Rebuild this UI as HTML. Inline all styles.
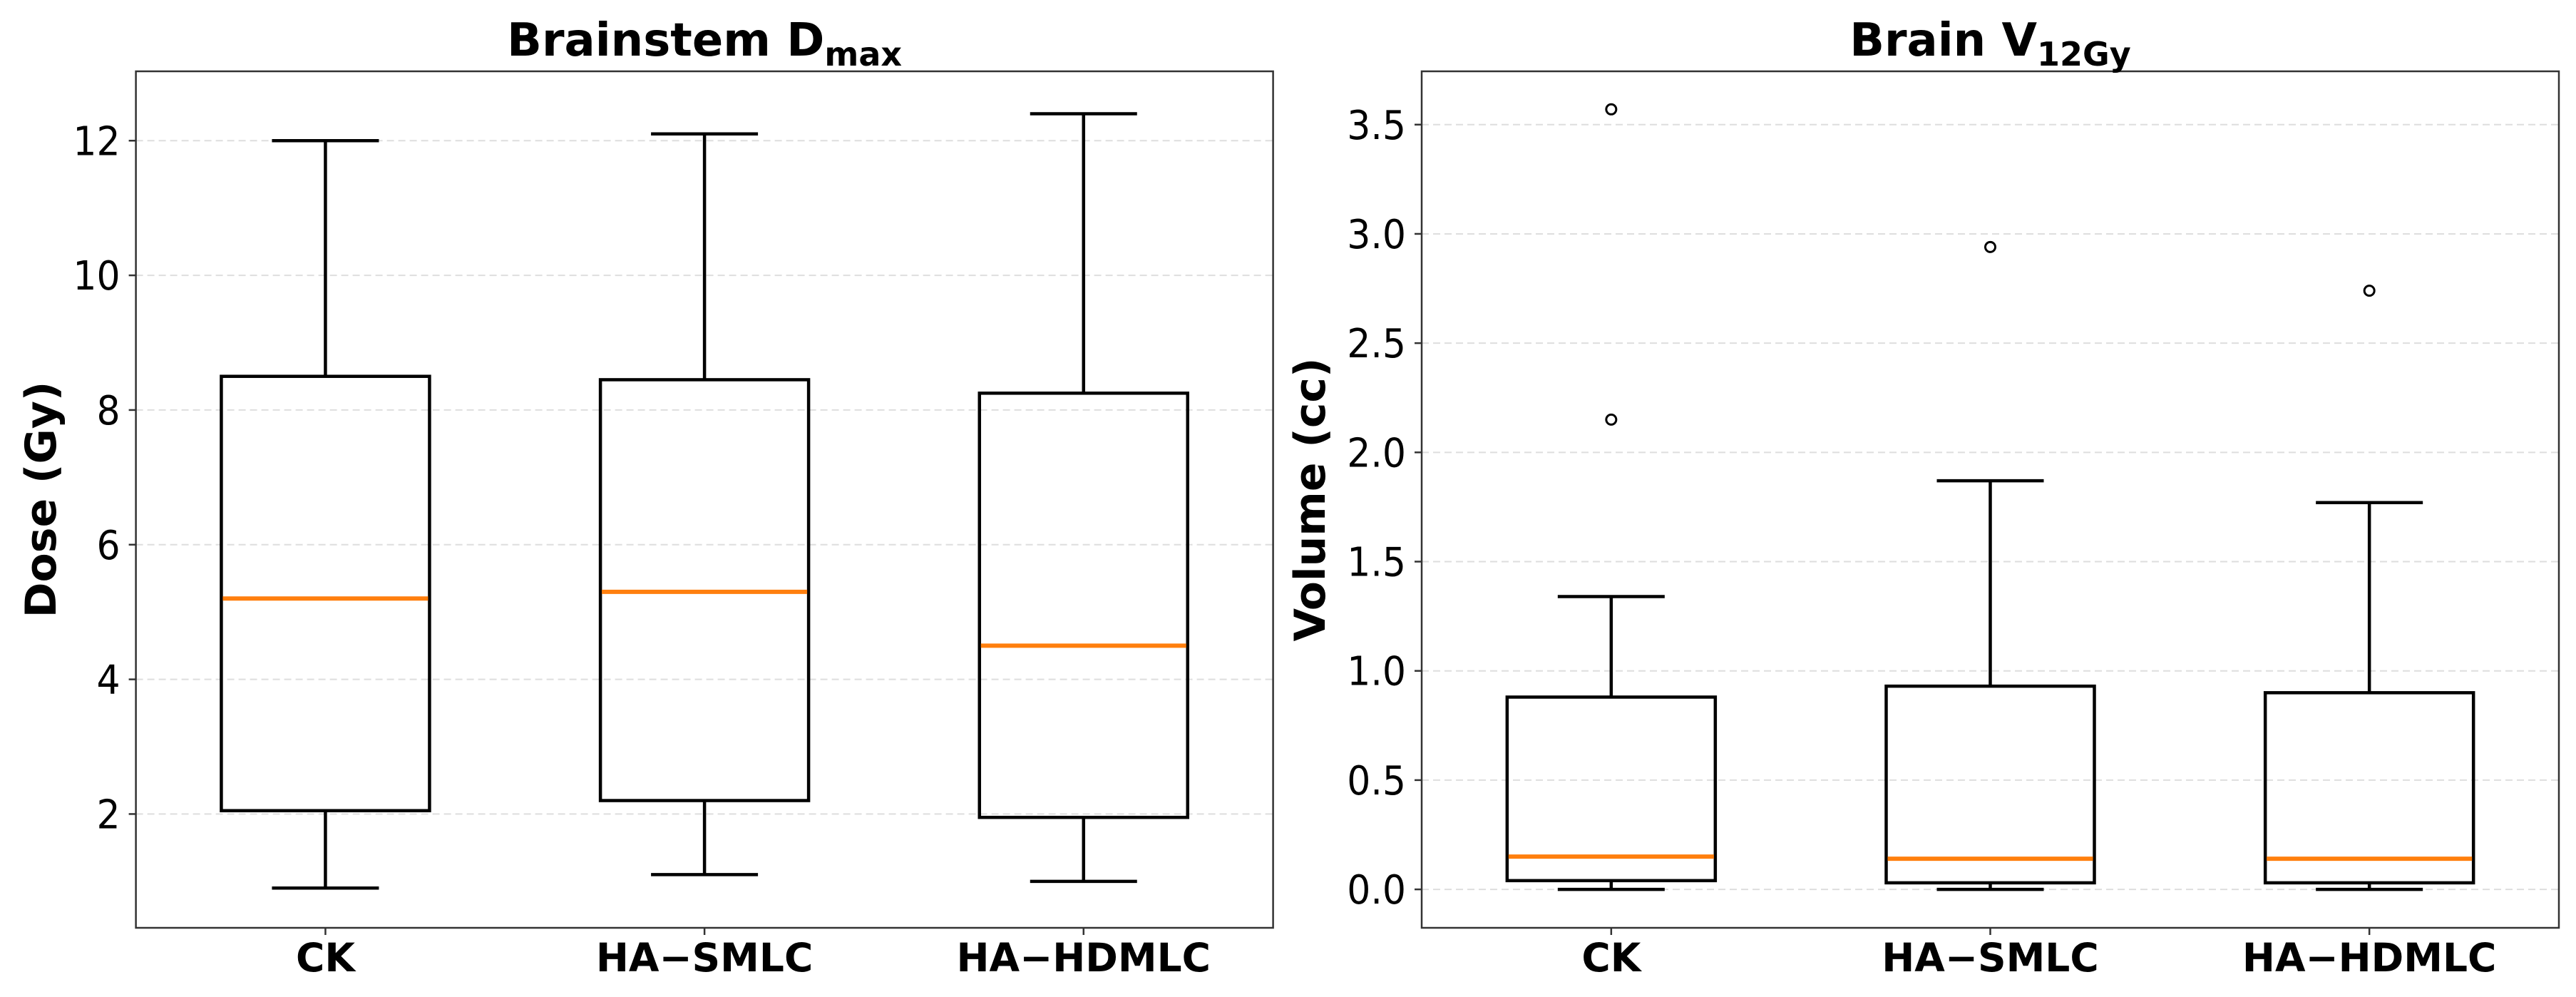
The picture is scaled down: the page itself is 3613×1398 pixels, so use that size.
<!DOCTYPE html>
<html><head><meta charset="utf-8">
<style>
html,body{margin:0;padding:0;background:#fff;}
svg{display:block;font-family:"DejaVu Sans","Liberation Sans",sans-serif;}
</style></head>
<body>
<svg id="fig" width="3613" height="1398" viewBox="0 0 3613 1398" xmlns="http://www.w3.org/2000/svg">
<rect width="3613" height="1398" fill="#fff"/>
</svg>
<script>
const categories = ["CK", "HA\u2212SMLC", "HA\u2212HDMLC"];
// left panel: Brainstem Dmax [whislo, q1, median, q3, whishi]
const doseWhisLo = [0.9, 1.1, 1.0];
const doseQ1 = [2.05, 2.2, 1.95];
const doseMed = [5.2, 5.3, 4.5];
const doseQ3 = [8.5, 8.45, 8.25];
const doseWhisHi = [12.0, 12.1, 12.4];
const doseFliers = [[], [], []];
const doseTicks = [2, 4, 6, 8, 10, 12];
// right panel: Brain V12Gy
const volWhisLo = [0.0, 0.0, 0.0];
const volQ1 = [0.04, 0.03, 0.03];
const volMed = [0.15, 0.14, 0.14];
const volQ3 = [0.88, 0.93, 0.90];
const volWhisHi = [1.34, 1.87, 1.77];
const volFliers = [[2.15, 3.57], [2.94], [2.74]];
const volTicks = [0.0, 0.5, 1.0, 1.5, 2.0, 2.5, 3.0, 3.5];
const volTickLabels = ["0.0","0.5","1.0","1.5","2.0","2.5","3.0","3.5"];

const NS = "http://www.w3.org/2000/svg";
const svg = document.getElementById("fig");
function mk(tag, attrs, parent) {
  const e = document.createElementNS(NS, tag);
  for (const k in attrs) e.setAttribute(k, attrs[k]);
  (parent || svg).appendChild(e);
  return e;
}
function txt(x, y, attrs, parent, rot, sx) {
  const a = Object.assign({x: 0, y: 0, transform: "translate(" + x + "," + y + ")" + (rot ? " rotate(-90)" : "") + " scale(" + sx + ",1)"}, attrs);
  return mk("text", a, parent);
}

function panel(opt) {
  const g = mk("g", {});
  
  
  const L = opt.left, R = opt.left + 1595, T = 100, B = 1301;
  const y = v => B - (v - opt.ymin) / (opt.ymax - opt.ymin) * (B - T);
  const x = i => L + (i + 1 - 0.5) / 3 * (R - L);
  opt.ticks.forEach((t, i) => {
    const gl = mk("line", {x1: L, x2: R, y1: y(t), y2: y(t), stroke: "#dedede", "stroke-width": 2, "stroke-dasharray": "10,6"}, g);
    
    
    const tk = mk("line", {x1: L - 10, x2: L, y1: y(t), y2: y(t), stroke: "#333", "stroke-width": 2.5}, g);
    
    
    const tl = txt(L - 22, y(t) + 20, {"text-anchor": "end", "font-size": 56, fill: "#000"}, g, false, 0.93);
    tl.textContent = opt.tickLabels[i];
    
    
  });
  categories.forEach((c, i) => {
    const cx = x(i);
    const bg = mk("g", {}, g);
    
    
    const st = {stroke: "#000", "stroke-width": 4.5, fill: "none"};
    mk("line", Object.assign({x1: cx, x2: cx, y1: y(opt.lo[i]), y2: y(opt.q1[i])}, st), bg);
    mk("line", Object.assign({x1: cx, x2: cx, y1: y(opt.q3[i]), y2: y(opt.hi[i])}, st), bg);
    mk("line", Object.assign({x1: cx - 75, x2: cx + 75, y1: y(opt.lo[i]), y2: y(opt.lo[i])}, st), bg);
    mk("line", Object.assign({x1: cx - 75, x2: cx + 75, y1: y(opt.hi[i]), y2: y(opt.hi[i])}, st), bg);
    mk("rect", Object.assign({x: cx - 146, width: 292, y: y(opt.q3[i]), height: y(opt.q1[i]) - y(opt.q3[i])}, st), bg);
    const md = mk("line", {x1: cx - 144, x2: cx + 144, y1: y(opt.med[i]), y2: y(opt.med[i]), stroke: "#ff7f0e", "stroke-width": 6}, bg);
    
    
    opt.fliers[i].forEach(f => {
      const o = mk("circle", {cx: cx, cy: y(f), r: 7, fill: "none", stroke: "#000", "stroke-width": 3}, bg);
      
      
    });
    const xt = mk("line", {x1: cx, x2: cx, y1: B, y2: B + 10, stroke: "#333", "stroke-width": 2.5}, g);
    
    
    const xl = txt(cx, 1362, {"text-anchor": "middle", "font-size": 55, "font-weight": "bold", fill: "#000"}, g, false, 1);
    xl.textContent = c;
    
    
  });
  const fr = mk("rect", {x: L, y: T, width: R - L, height: B - T, fill: "none", stroke: "#333", "stroke-width": 2.5}, g);
  
  
  const tt = txt((L + R) / 2, 78, {"text-anchor": "middle", "font-size": 64, "font-weight": "bold", fill: "#000"}, g, false, 1);
  
  
  tt.appendChild(document.createTextNode(opt.title));
  const sub = mk("tspan", {"font-size": 46, dy: 14}, tt);
  sub.textContent = opt.sub;
  const yl = txt(opt.ylabX, (T + B) / 2, {"text-anchor": "middle", "font-size": 60, "font-weight": "bold", fill: "#000"}, g, true, 1);
  yl.textContent = opt.ylabel;
  
  
}

panel({name: "brainstem-dmax-panel", left: 190.6, ymin: 0.31, ymax: 13.03,
  ticks: doseTicks, tickLabels: doseTicks.map(String),
  lo: doseWhisLo, q1: doseQ1, med: doseMed, q3: doseQ3, hi: doseWhisHi, fliers: doseFliers,
  title: "Brainstem D", sub: "max", ylabel: "Dose (Gy)", ylabX: 78});
panel({name: "brain-v12gy-panel", left: 1994, ymin: -0.176, ymax: 3.744,
  ticks: volTicks, tickLabels: volTickLabels,
  lo: volWhisLo, q1: volQ1, med: volMed, q3: volQ3, hi: volWhisHi, fliers: volFliers,
  title: "Brain V", sub: "12Gy", ylabel: "Volume (cc)", ylabX: 1858});
</script>
</body></html>
